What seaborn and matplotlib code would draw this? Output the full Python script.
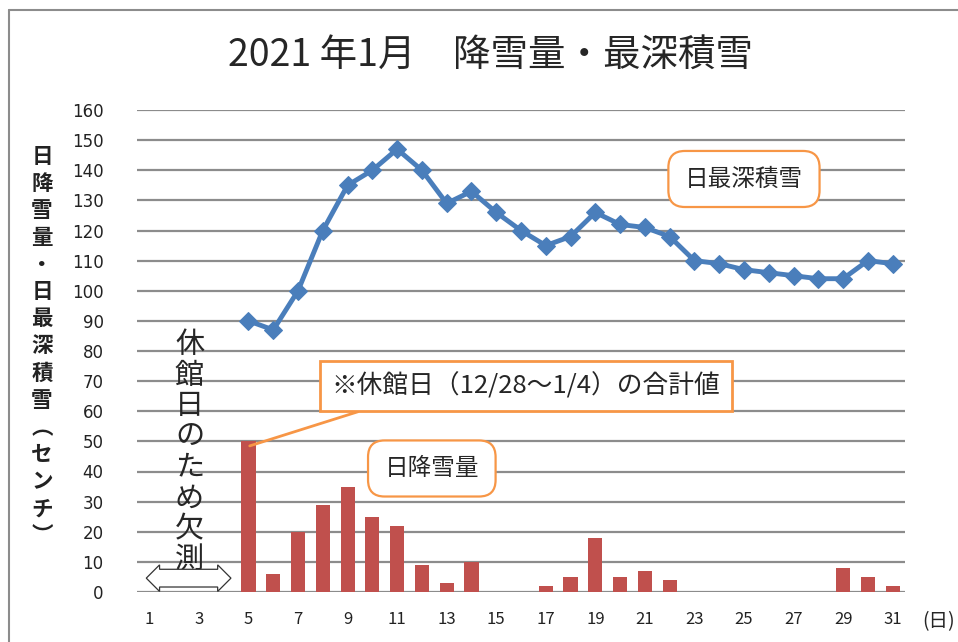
import numpy as np
import pandas as pd
import matplotlib.pyplot as plt
import seaborn as sns
from matplotlib.lines import Line2D

# データ（2021年1月）
days = list(range(5, 32))
snowfall = [50, 6, 20, 29, 35, 25, 22, 9, 3, 10, 0, 0, 2, 5, 18, 5, 7, 4,
            0, 0, 0, 0, 0, 0, 8, 5, 2]
max_depth = [90, 87, 100, 120, 135, 140, 147, 140, 129, 133, 126, 120, 115, 118,
             126, 122, 121, 118, 110, 109, 107, 106, 105, 104, 104, 110, 109]
xticks = list(range(1, 32, 2))
yticks = list(range(0, 161, 10))

title = "2021 年1月　降雪量・最深積雪"
ylabel_chars = "日降雪量・日最深積雪︵センチ︶"
note_text = "※休館日（12/28～1/4）の合計値"
closed_text = "休館日のため欠測"

df = pd.DataFrame({"day": days, "snowfall": snowfall, "depth": max_depth})

sns.set_style("white")
plt.rcParams["font.family"] = ["Noto Sans CJK JP", "DejaVu Sans"]

fig = plt.figure(figsize=(9.58, 6.42), dpi=100)
ax = fig.add_axes([137 / 958, 1 - 592 / 642, 768 / 958, 482 / 642])

bar_color = "#C0504D"
line_color = "#4A7EBB"
orange = "#F79646"

sns.barplot(data=df, x="day", y="snowfall", native_scale=True, color=bar_color,
            width=0.57, saturation=1, linewidth=0, ax=ax, zorder=3)
sns.lineplot(data=df, x="day", y="depth", color=line_color, linewidth=3.5,
             marker="D", markersize=9, markeredgecolor=line_color, ax=ax, zorder=4)

ax.set_xlim(0.5, 31.5)
ax.set_ylim(0, 160)
ax.set_xticks(xticks)
ax.set_yticks(yticks)
ax.set_xticklabels([str(d) for d in xticks], fontsize=12, color="#222222")
ax.set_yticklabels([str(v) for v in yticks], fontsize=12, color="#222222",
                   family="DejaVu Sans")
ax.tick_params(axis="both", length=0)
ax.tick_params(axis="y", pad=24)
ax.tick_params(axis="x", pad=14)
ax.set_xlabel("")
ax.set_ylabel("")
for s in ax.spines.values():
    s.set_visible(False)
ax.yaxis.grid(True, color="#8C8C8C", linewidth=1.6, zorder=0)
ax.set_axisbelow(True)
ax.patch.set_alpha(0)

# タイトル
fig.text(490 / 958, 1 - 55 / 642, title, fontsize=27, ha="center", va="center")

# 縦書きの軸ラベル
fig.text(42 / 958, 1 - 346 / 642, "\n".join(ylabel_chars), fontsize=15.5,
         fontweight="bold", ha="center", va="center", linespacing=1.36,
         color="#222222")

# (日)
ax.text(1.022, -0.062, "(日)", transform=ax.transAxes, fontsize=14,
        ha="left", va="center")

# 休館日のため欠測（縦書き）
ax.text(2.62, 87, "\n".join(closed_text), fontsize=21, ha="center", va="top",
        linespacing=1.03, zorder=5)

# 両矢印
ax.text(2.62, 4.6, " " * 44, fontsize=5, ha="center", va="center",
        bbox=dict(boxstyle="darrow,pad=0.7", fc="white", ec="#333333", lw=0.9),
        zorder=5)

# 注記
ax.annotate(note_text, xy=(5.05, 48.5), xytext=(16.2, 68.4), fontsize=18.5,
            ha="center", va="center", zorder=6,
            bbox=dict(boxstyle="square,pad=0.45", fc="white", ec=orange, lw=2),
            arrowprops=dict(arrowstyle="-", color=orange, lw=2,
                            relpos=(0.17, 0), shrinkA=0, shrinkB=0))

ax.text(12.4, 41.0, "日降雪量", fontsize=17, ha="center", va="center", zorder=6,
        bbox=dict(boxstyle="round,pad=0.7,rounding_size=0.7", fc="white",
                  ec=orange, lw=1.6))
ax.text(25.0, 137.1, "日最深積雪", fontsize=17, ha="center", va="center", zorder=6,
        bbox=dict(boxstyle="round,pad=0.7,rounding_size=0.7", fc="white",
                  ec=orange, lw=1.6))

# 外枠
fig.add_artist(Line2D([9 / 958, 9 / 958], [0, 1 - 10 / 642], color="#8C8C8C", lw=1.5))
fig.add_artist(Line2D([9 / 958, 1], [1 - 10 / 642, 1 - 10 / 642], color="#8C8C8C", lw=1.5))

fig.savefig("out.png", dpi=100)
